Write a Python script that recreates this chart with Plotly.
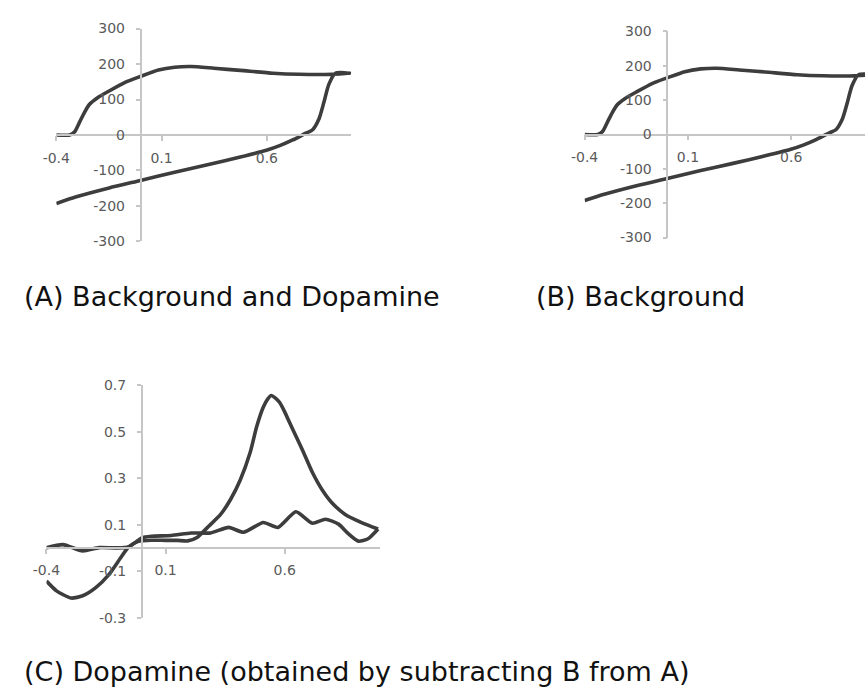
import plotly.graph_objects as go

# ---- Cyclic voltammograms: potential (V) vs current ----
# (A) background + dopamine: forward sweep then reverse sweep
a_potential = [-0.40, -0.336, -0.313, -0.289, -0.266, -0.243, -0.204, -0.149, -0.071, 0.0,
               0.085, 0.162, 0.240, 0.349, 0.474, 0.629, 0.754, 0.910, 1.0,
               0.926, 0.894, 0.871, 0.848, 0.816, 0.785, 0.723, 0.661, 0.598, 0.474,
               0.318, 0.162, 0.0, -0.149, -0.305, -0.40]
a_current = [0, 0, 9, 37, 64, 86, 105, 124, 149, 165,
             183, 191, 193, 188, 182, 174, 171, 171, 174,
             174, 142, 92, 46, 14, 5, -14, -30, -43, -62,
             -84, -105, -128, -149, -174, -193]

# (B) background only
b_potential = [-0.40, -0.336, -0.313, -0.289, -0.266, -0.243, -0.204, -0.149, -0.071, 0.0,
               0.085, 0.162, 0.240, 0.349, 0.474, 0.629, 0.754, 0.910, 1.0,
               0.926, 0.894, 0.871, 0.848, 0.816, 0.785, 0.723, 0.661, 0.598, 0.474,
               0.318, 0.162, 0.0, -0.149, -0.305, -0.40]
b_current = [0, 0, 9, 37, 64, 86, 105, 124, 149, 165,
             183, 191, 193, 188, 182, 174, 171, 171, 174,
             174, 142, 92, 46, 14, 5, -14, -30, -43, -62,
             -84, -105, -128, -149, -174, -192]

# (C) background-subtracted dopamine signal
c_peak_potential = [-0.40, -0.358, -0.296, -0.248, -0.193, -0.138, -0.090, -0.055, -0.014, 0.041,
                    0.10, 0.15, 0.193, 0.234, 0.276, 0.331, 0.372, 0.413, 0.455, 0.482,
                    0.51, 0.53, 0.544, 0.56, 0.579, 0.60, 0.62, 0.645, 0.675, 0.716,
                    0.757, 0.799, 0.854, 0.923, 0.992]
c_peak_current = [-0.143, -0.185, -0.216, -0.206, -0.171, -0.115, -0.045, 0.004, 0.028, 0.033,
                  0.032, 0.032, 0.030, 0.046, 0.088, 0.144, 0.207, 0.291, 0.41, 0.52,
                  0.605, 0.642, 0.655, 0.645, 0.625, 0.585, 0.54, 0.485, 0.42, 0.325,
                  0.25, 0.193, 0.144, 0.109, 0.081]

c_flat_potential = [-0.40, -0.331, -0.248, -0.179, -0.110, -0.055, 0.0, 0.041, 0.124, 0.207,
                    0.289, 0.365, 0.427, 0.51, 0.572, 0.647, 0.716, 0.771, 0.826, 0.868,
                    0.909, 0.950, 0.992]
c_flat_current = [0.0, 0.014, -0.013, 0.001, 0.0, 0.004, 0.043, 0.05, 0.053, 0.064,
                  0.064, 0.088, 0.067, 0.109, 0.088, 0.155, 0.106, 0.123, 0.102, 0.060,
                  0.029, 0.039, 0.081]

# tick labels
x_ticks = [-0.4, 0.1, 0.6]
y_ticks_ab = [-300, -200, -100, 0, 100, 200, 300]
y_ticks_c = [-0.3, -0.1, 0.1, 0.3, 0.5, 0.7]

captions = ["(A) Background and Dopamine", "(B) Background",
            "(C) Dopamine (obtained by subtracting B from A)"]

W, H = 865, 694
LINE = "#3d3d3d"
AXIS = "#c6c6c6"
TICKFONT = dict(family="DejaVu Sans", size=14, color="#5a5a5a")


def px_dom_x(left, right):
    return [left / W, right / W]


def px_dom_y(top, bottom):
    return [1 - bottom / H, 1 - top / H]


def zero_pos(dom, rng):
    return dom[0] + (0 - rng[0]) / (rng[1] - rng[0]) * (dom[1] - dom[0])


panels = [
    # x domain px, y domain px, x range, y range, y ticks
    dict(xd=px_dom_x(43, 342.6), yd=px_dom_y(21, 239), xr=[-0.4, 1.0], yr=[-300, 300], yt=y_ticks_ab),
    dict(xd=px_dom_x(580, 865), yd=px_dom_y(24, 235), xr=[-0.4, 0.957], yr=[-300, 300], yt=y_ticks_ab),
    dict(xd=px_dom_x(33, 372), yd=px_dom_y(386, 624), xr=[-0.4, 1.0], yr=[-0.3, 0.7], yt=y_ticks_c),
]

fig = go.Figure()

series = [
    (a_potential, a_current, 1),
    (b_potential, b_current, 2),
    (c_peak_potential, c_peak_current, 3),
    (c_flat_potential, c_flat_current, 3),
]
for xs, ys, k in series:
    fig.add_trace(go.Scatter(
        x=xs, y=ys, mode="lines",
        line=dict(color=LINE, width=3.6, shape="spline", smoothing=0.6),
        xaxis="x" if k == 1 else f"x{k}",
        yaxis="y" if k == 1 else f"y{k}",
        showlegend=False, hoverinfo="skip",
    ))

layout = {}
for i, p in enumerate(panels, start=1):
    sfx = "" if i == 1 else str(i)
    layout[f"xaxis{sfx}"] = dict(
        domain=p["xd"], range=p["xr"], anchor="free",
        position=zero_pos(p["yd"], p["yr"]),
        showline=True, linecolor=AXIS, linewidth=1.5,
        ticks="outside", ticklen=5, tickcolor=AXIS, tickwidth=1.5,
        tickvals=x_ticks, ticktext=[f"{v:g}" for v in x_ticks],
        ticklabelstandoff=5,
        showgrid=False, zeroline=False, tickfont=TICKFONT, fixedrange=True,
    )
    layout[f"yaxis{sfx}"] = dict(
        domain=p["yd"], range=p["yr"], anchor="free",
        position=zero_pos(p["xd"], p["xr"]),
        showline=True, linecolor=AXIS, linewidth=1.5,
        ticks="outside", ticklen=4, tickcolor=AXIS, tickwidth=1.5,
        tickvals=p["yt"], ticktext=[f"{v:g}" for v in p["yt"]],
        ticklabelstandoff=8,
        showgrid=False, zeroline=False, tickfont=TICKFONT, fixedrange=True,
    )

fig.update_layout(
    width=W, height=H,
    margin=dict(l=0, r=0, t=0, b=0),
    paper_bgcolor="white", plot_bgcolor="white",
    **layout,
)

caption_pos = [(8, 295), (529, 295), (8, 679)]
for text, (cx, cy) in zip(captions, caption_pos):
    fig.add_annotation(
        text=text, xref="paper", yref="paper",
        x=cx / W, y=1 - cy / H, xanchor="left", yanchor="middle",
        showarrow=False, font=dict(family="DejaVu Sans", size=27, color="#111111"),
    )

fig.write_html("out.html")
